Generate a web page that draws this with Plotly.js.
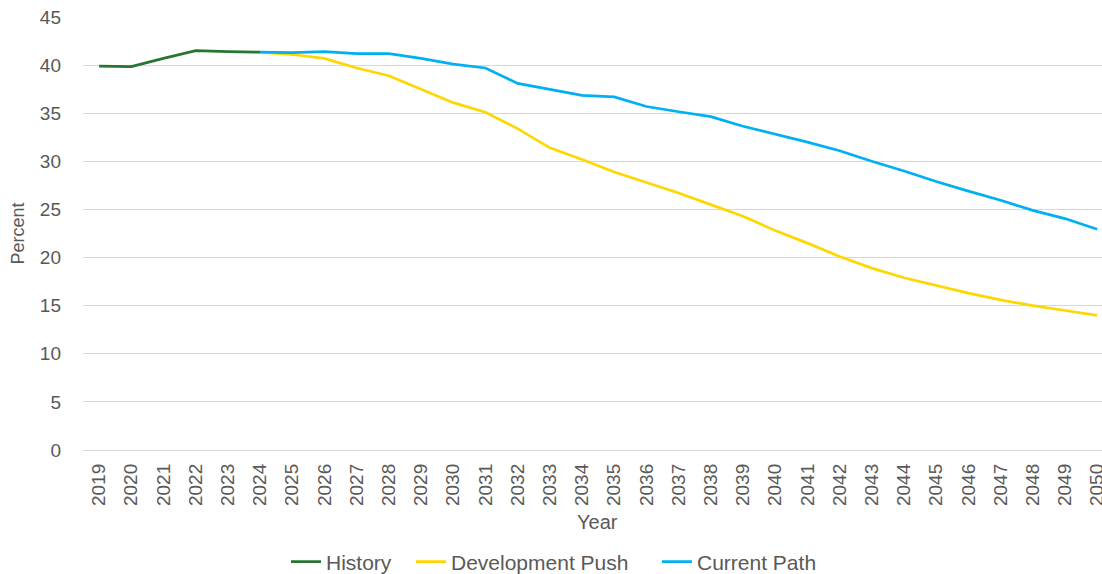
<!DOCTYPE html>
<html>
<head>
<meta charset="utf-8">
<script src="https://cdn.plot.ly/plotly-3.0.1.min.js"></script>
<style>html,body{margin:0;padding:0;background:#fff;}#chart{width:1102px;height:574px;}</style>
</head>
<body>
<div id="chart"></div>
<script>
const years = ['2019','2020','2021','2022','2023','2024','2025','2026','2027','2028','2029','2030','2031','2032','2033','2034','2035','2036','2037','2038','2039','2040','2041','2042','2043','2044','2045','2046','2047','2048','2049','2050'];
const history = [39.9,39.85,40.7,41.5,41.4,41.35,null,null,null,null,null,null,null,null,null,null,null,null,null,null,null,null,null,null,null,null,null,null,null,null,null,null];
const developmentPush = [null,null,null,null,null,41.35,41.1,40.7,39.7,38.9,37.5,36.1,35.1,33.4,31.4,30.2,28.9,27.8,26.7,25.5,24.3,22.8,21.5,20.1,18.9,17.9,17.1,16.3,15.6,15.0,14.5,14.0];
const currentPath = [null,null,null,null,null,41.35,41.3,41.4,41.2,41.2,40.7,40.1,39.7,38.1,37.5,36.85,36.7,35.7,35.15,34.65,33.65,32.85,32.0,31.1,30.0,29.0,27.9,26.9,25.95,24.9,24.05,22.95];
const seriesNames = ['History','Development Push','Current Path'];
const colors = ['#267530','#FFD700','#00B0F0'];

const font = 'Liberation Sans, Arial, sans-serif';
const grey = '#595959';
const vals = [history, developmentPush, currentPath];
const legendIds = ['legend','legend2','legend3'];
const traces = vals.map((v,i)=>({
  x: years, y: v, name: seriesNames[i], type: 'scatter', mode: 'lines',
  line: {color: colors[i], width: 2.7}, connectgaps: false, legend: legendIds[i]
}));

const legendStarts = [286, 411, 657];
function mkLegend(px) {
  return {orientation: 'h', xref: 'container', yref: 'container', x: px/1102, xanchor: 'left',
          y: 0.021, yanchor: 'middle', font: {size: 21, color: grey}, bgcolor: 'rgba(0,0,0,0)', borderwidth: 0};
}

const layout = {
  width: 1102, height: 574,
  margin: {l: 83, r: 0, t: 17, b: 124},
  paper_bgcolor: '#fff', plot_bgcolor: '#fff',
  font: {family: font, color: grey, size: 18},
  showlegend: true,
  legend: mkLegend(legendStarts[0]),
  legend2: mkLegend(legendStarts[1]),
  legend3: mkLegend(legendStarts[2]),
  xaxis: {type: 'category', range: [-0.5, 31.15], tickangle: -90, showgrid: false, zeroline: false,
          showline: false, ticks: '', ticklabelstandoff: 9, tickfont: {size: 19, color: grey}, automargin: false, fixedrange: true},
  yaxis: {range: [0, 45], dtick: 5, tick0: 0, showgrid: true, gridcolor: '#d9d9d9', gridwidth: 1,
          zeroline: true, zerolinecolor: '#d9d9d9', zerolinewidth: 1, showline: false, ticks: '',
          ticklabelstandoff: 21, tickfont: {size: 19, color: grey}, automargin: false, fixedrange: true},
  annotations: [
    {text: 'Year', xref: 'paper', yref: 'paper', x: 0.505, y: 0, yshift: -72, showarrow: false,
     xanchor: 'center', yanchor: 'middle', font: {size: 20, color: grey}},
    {text: 'Percent', xref: 'paper', yref: 'paper', x: 0, xshift: -66, y: 0.5, textangle: -90, showarrow: false,
     xanchor: 'center', yanchor: 'middle', font: {size: 18, color: grey}}
  ]
};
Plotly.newPlot('chart', traces, layout, {displayModeBar: false, staticPlot: true});
</script>
</body>
</html>
